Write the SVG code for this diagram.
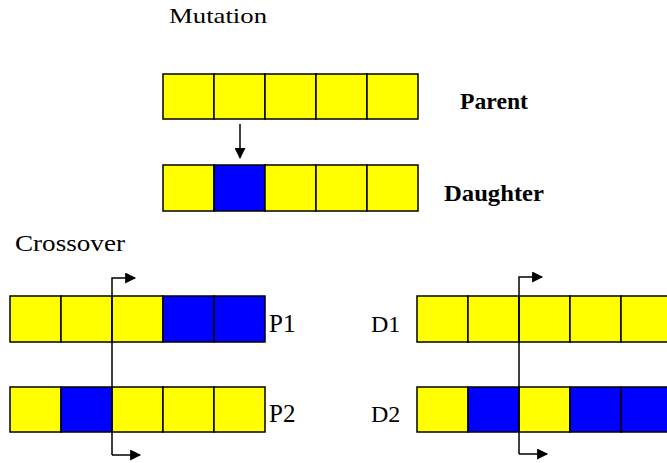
<svg xmlns="http://www.w3.org/2000/svg" width="667" height="463" viewBox="0 0 667 463">
  <style>
    .y { fill: #ffff00; stroke: #000; stroke-width: 1.5; }
    .b { fill: #0000ff; stroke: #000; stroke-width: 1.5; }
    .con { fill: none; stroke: #000; stroke-width: 1.5; }
  </style>
  <defs>
    <marker id="ah" viewBox="0 0 10 10" refX="9" refY="5" markerWidth="12" markerHeight="11" markerUnits="userSpaceOnUse" orient="auto">
      <path d="M0,0 L10,5 L0,10 Z" fill="#000"/>
    </marker>
  </defs>

  <rect width="667" height="463" fill="#fff"/>

  <g font-family="'Liberation Serif', 'DejaVu Serif', serif" fill="#000">
    <!-- section titles -->
    <text x="169" y="23" font-size="22" textLength="98" lengthAdjust="spacingAndGlyphs">Mutation</text>
    <text x="15" y="251" font-size="23" textLength="110" lengthAdjust="spacingAndGlyphs">Crossover</text>

    <!-- mutation: parent chromosome -->
    <g id="parent">
      <rect class="y" x="163" y="74" width="51" height="45"/>
      <rect class="y" x="214" y="74" width="51" height="45"/>
      <rect class="y" x="265" y="74" width="51" height="45"/>
      <rect class="y" x="316" y="74" width="51" height="45"/>
      <rect class="y" x="367" y="74" width="51" height="45"/>
      <text x="460" y="109" font-size="24" font-weight="bold" textLength="68" lengthAdjust="spacingAndGlyphs">Parent</text>
    </g>

    <!-- mutation: daughter chromosome -->
    <g id="daughter">
      <rect class="y" x="163" y="165" width="51" height="46"/>
      <rect class="b" x="214" y="165" width="51" height="46"/>
      <rect class="y" x="265" y="165" width="51" height="46"/>
      <rect class="y" x="316" y="165" width="51" height="46"/>
      <rect class="y" x="367" y="165" width="51" height="46"/>
      <text x="444" y="201" font-size="24" font-weight="bold" textLength="100" lengthAdjust="spacingAndGlyphs">Daughter</text>
    </g>

    <!-- crossover: parents -->
    <g id="p1">
      <rect class="y" x="10" y="296" width="51" height="46"/>
      <rect class="y" x="61" y="296" width="51" height="46"/>
      <rect class="y" x="112" y="296" width="51" height="46"/>
      <rect class="b" x="163" y="296" width="51" height="46"/>
      <rect class="b" x="214" y="296" width="51" height="46"/>
      <text x="269" y="332" font-size="25">P1</text>
    </g>
    <g id="p2">
      <rect class="y" x="10" y="387" width="51" height="45"/>
      <rect class="b" x="61" y="387" width="51" height="45"/>
      <rect class="y" x="112" y="387" width="51" height="45"/>
      <rect class="y" x="163" y="387" width="51" height="45"/>
      <rect class="y" x="214" y="387" width="51" height="45"/>
      <text x="269" y="422" font-size="25">P2</text>
    </g>

    <!-- crossover: offspring -->
    <g id="d1">
      <rect class="y" x="417" y="296" width="51" height="46"/>
      <rect class="y" x="468" y="296" width="51" height="46"/>
      <rect class="y" x="519" y="296" width="51" height="46"/>
      <rect class="y" x="570" y="296" width="51" height="46"/>
      <rect class="y" x="621" y="296" width="51" height="46"/>
      <text x="371" y="332" font-size="24">D1</text>
    </g>
    <g id="d2">
      <rect class="y" x="417" y="387" width="51" height="45"/>
      <rect class="b" x="468" y="387" width="51" height="45"/>
      <rect class="y" x="519" y="387" width="51" height="45"/>
      <rect class="b" x="570" y="387" width="51" height="45"/>
      <rect class="b" x="621" y="387" width="51" height="45"/>
      <text x="371" y="422" font-size="24">D2</text>
    </g>
  </g>

  <!-- arrows and crossover cut lines -->
  <g id="connectors">
    <path class="con" d="M240,124 L240,158" marker-end="url(#ah)"/>
    <path class="con" d="M112,455 L112,278 L135,278" marker-end="url(#ah)"/>
    <path class="con" d="M112,455 L140,455" marker-end="url(#ah)"/>
    <path class="con" d="M519,454 L519,277 L542,277" marker-end="url(#ah)"/>
    <path class="con" d="M519,454 L547,454" marker-end="url(#ah)"/>
  </g>
</svg>
